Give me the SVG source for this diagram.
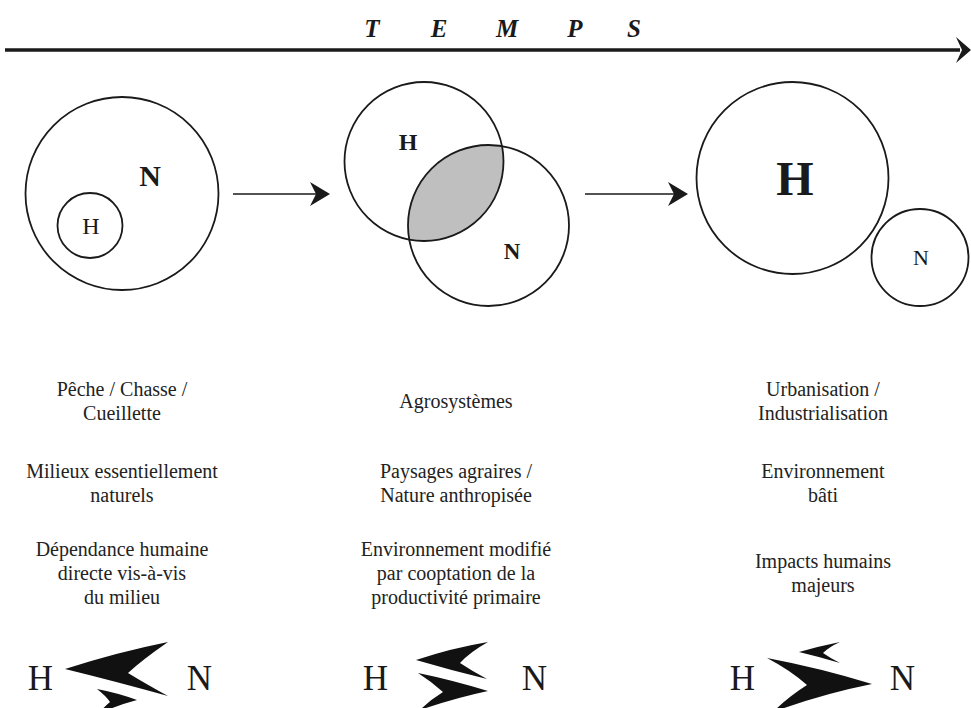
<svg xmlns="http://www.w3.org/2000/svg" width="971" height="708" viewBox="0 0 971 708">
<style>
.c{fill:none;stroke:#1a1a1a;stroke-width:1.8}
.t{font-family:"Liberation Serif","DejaVu Serif",serif;font-size:20px;fill:#222;text-anchor:middle}
.b{font-family:"Liberation Serif","DejaVu Serif",serif;font-weight:bold;fill:#1a1a1a;text-anchor:middle}
.r{font-family:"Liberation Serif","DejaVu Serif",serif;fill:#1a1a1a;text-anchor:middle}
.ch{fill:#111}
.ln{stroke:#1a1a1a;fill:none}
</style>
<defs>
<marker id="ah" viewBox="0 0 20 24" refX="18" refY="12" markerWidth="20" markerHeight="24" markerUnits="userSpaceOnUse" orient="auto">
<path d="M0,0 L20,12 L0,24 L6,12 Z" fill="#1a1a1a"/>
</marker>
</defs>
<g id="connectors">
<line class="ln" x1="5" y1="50" x2="960" y2="50" stroke-width="3.5"/>
<path d="M971,50 L956,37 L962,50 L956,63 Z" fill="#1a1a1a"/>
<line class="ln" x1="233" y1="194" x2="328" y2="194" stroke-width="1.6" marker-end="url(#ah)"/>
<line class="ln" x1="585" y1="194" x2="686" y2="194" stroke-width="1.6" marker-end="url(#ah)"/>
</g>
<g id="temps">
<text y="37" font-family="Liberation Serif, serif" font-style="italic" font-weight="bold" font-size="25" fill="#1a1a1a" text-anchor="middle"><tspan x="372">T</tspan><tspan x="439">E</tspan><tspan x="507">M</tspan><tspan x="575">P</tspan><tspan x="634">S</tspan></text>
</g>
<g id="stage1">
<circle class="c" cx="122" cy="193.5" r="96.5"/>
<circle class="c" cx="90" cy="225.5" r="32.5"/>
<text class="b" x="150" y="186" font-size="30">N</text>
<text class="r" x="91" y="234" font-size="24">H</text>
</g>
<g id="stage2">
<path d="M502.01,146.14 A79.5,79.5 0 0 1 409.25,239.62 A80.5,80.5 0 0 1 502.01,146.14 Z" fill="#bfbfbf"/>
<circle class="c" cx="424" cy="161.5" r="79.5"/>
<circle class="c" cx="488.5" cy="225.5" r="80.5"/>
<text class="b" x="408" y="150" font-size="24">H</text>
<text class="b" x="512" y="259" font-size="23">N</text>
</g>
<g id="stage3">
<circle class="c" cx="792.5" cy="178" r="96"/>
<circle class="c" cx="920" cy="257.5" r="48.5"/>
<text class="b" x="795" y="195" font-size="48">H</text>
<text class="r" x="921" y="265" font-size="22">N</text>
</g>
<g id="text1">
<text class="t" x="122" y="396">Pêche / Chasse /</text>
<text class="t" x="122" y="420">Cueillette</text>
<text class="t" x="122" y="478">Milieux essentiellement</text>
<text class="t" x="122" y="502">naturels</text>
<text class="t" x="122" y="556">Dépendance humaine</text>
<text class="t" x="122" y="580">directe vis-à-vis</text>
<text class="t" x="122" y="604">du milieu</text>
</g>
<g id="text2">
<text class="t" x="456" y="408">Agrosystèmes</text>
<text class="t" x="456" y="478">Paysages agraires /</text>
<text class="t" x="456" y="502">Nature anthropisée</text>
<text class="t" x="456" y="556">Environnement modifié</text>
<text class="t" x="456" y="580">par cooptation de la</text>
<text class="t" x="456" y="604">productivité primaire</text>
</g>
<g id="text3">
<text class="t" x="823" y="396">Urbanisation /</text>
<text class="t" x="823" y="420">Industrialisation</text>
<text class="t" x="823" y="478">Environnement</text>
<text class="t" x="823" y="502">bâti</text>
<text class="t" x="823" y="568">Impacts humains</text>
<text class="t" x="823" y="592">majeurs</text>
</g>
<g id="relation1">
<text class="r" x="40.5" y="690" font-size="35">H</text>
<text class="r" x="199.5" y="690" font-size="35">N</text>
<path class="ch" d="M65,669 Q118,652 168,642 Q142,660 128,673 Q146,684 168,696 Q114,681 65,669 Z"/>
<path class="ch" d="M137,700 Q118,693 97,689 Q106,696 110,702 Q104,707 98,714 Q118,705 137,700 Z"/>
</g>
<g id="relation2">
<text class="r" x="375.5" y="690" font-size="35">H</text>
<text class="r" x="534.5" y="690" font-size="35">N</text>
<path class="ch" d="M416,660 Q452,648 488,642 Q470,652 460,663 Q472,671 487,679 Q450,670 416,660 Z"/>
<path class="ch" d="M488,691 Q452,680 418,673 Q432,682 443,692 Q430,700 420,710 Q455,698 488,691 Z"/>
</g>
<g id="relation3">
<text class="r" x="742.5" y="690" font-size="35">H</text>
<text class="r" x="902.5" y="690" font-size="35">N</text>
<path class="ch" d="M799,652 Q820,646 840,642 Q829,647 823,653 Q830,658 840,663 Q820,657 799,652 Z"/>
<path class="ch" d="M872,684 Q820,668 767,658 Q790,670 807,685 Q788,697 773,712 Q822,694 872,684 Z"/>
</g>
</svg>
